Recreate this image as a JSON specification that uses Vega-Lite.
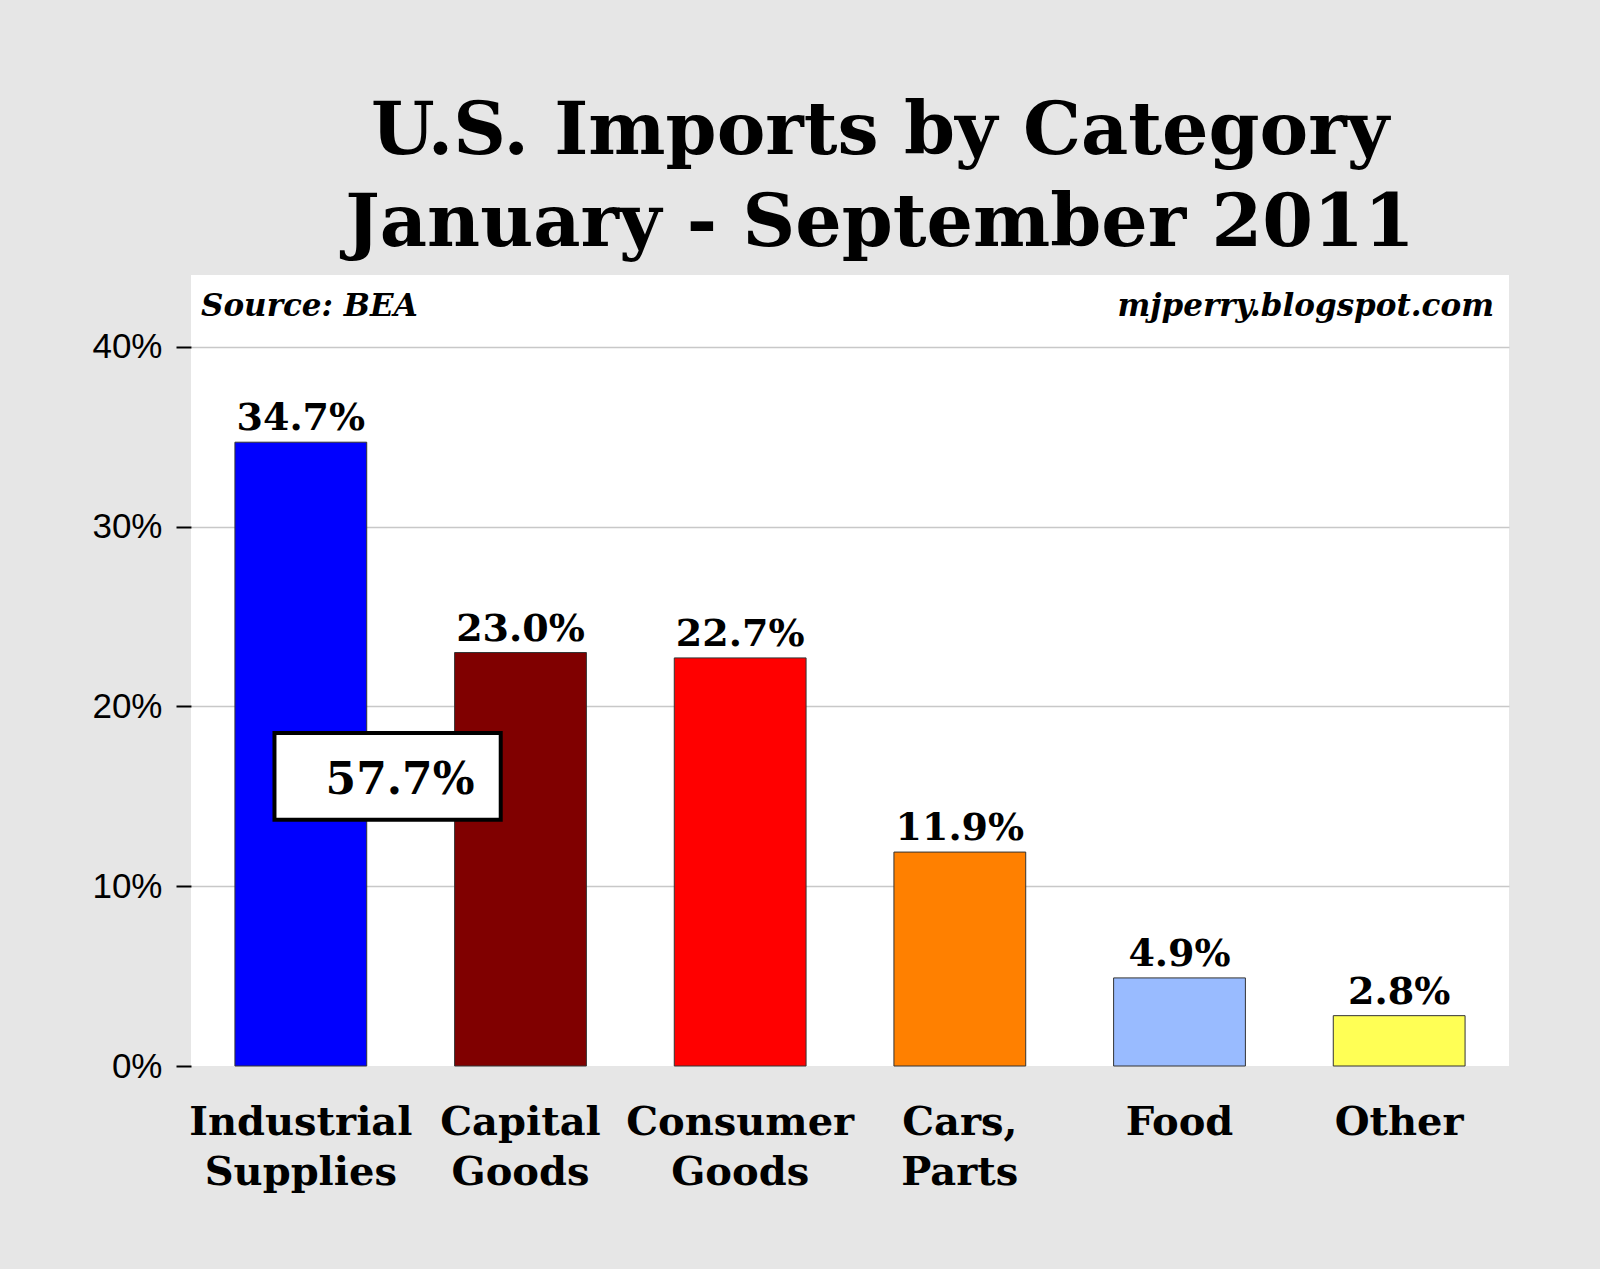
{
  "$schema": "https://vega.github.io/schema/vega-lite/v6.json",
  "width": 1318,
  "height": 791,
  "autosize": {"type": "none"},
  "padding": {"left": 191, "top": 275, "right": 91, "bottom": 203},
  "background": "#e6e6e6",
  "config": {"view": {"fill": "white", "stroke": null}},
  "title": {
    "text": ["U.S. Imports by Category", "January - September 2011"],
    "font": "DejaVu Serif",
    "fontSize": 73,
    "fontWeight": "bold",
    "color": "#000000",
    "lineHeight": 92,
    "anchor": "middle",
    "dx": 30,
    "offset": 14
  },
  "layer": [
    {
      "data": {"name": "imports", "values": [
        {"category": "Industrial Supplies", "share": 0.347},
        {"category": "Capital Goods", "share": 0.230},
        {"category": "Consumer Goods", "share": 0.227},
        {"category": "Cars, Parts", "share": 0.119},
        {"category": "Food", "share": 0.049},
        {"category": "Other", "share": 0.028}
      ]},
      "layer": [
        {
          "mark": {"type": "bar", "stroke": "#333333", "strokeWidth": 1},
          "encoding": {
            "x": {
              "field": "category", "type": "nominal",
              "scale": {
                "domain": ["Industrial Supplies", "Capital Goods", "Consumer Goods", "Cars, Parts", "Food", "Other"],
                "paddingInner": 0.4, "paddingOuter": 0.2
              },
              "axis": {
                "title": null,
                "labelExpr": "split(datum.label, ' ')",
                "labelFont": "DejaVu Serif",
                "labelFontWeight": "bold",
                "labelFontSize": 40,
                "labelLineHeight": 50,
                "labelColor": "#000000",
                "labelAngle": 0,
                "labelPadding": 36,
                "labelOverlap": false,
                "labelLimit": 0,
                "ticks": false,
                "domain": false
              }
            },
            "y": {
              "field": "share", "type": "quantitative",
              "scale": {"domain": [0, 0.44], "nice": false},
              "axis": {
                "title": null,
                "values": [0, 0.1, 0.2, 0.3, 0.4],
                "format": ".0%",
                "labelFont": "Liberation Sans",
                "labelFontSize": 35,
                "labelColor": "#000000",
                "labelPadding": 14,
                "tickSize": 15,
                "tickWidth": 2,
                "tickColor": "#000000",
                "domain": false,
                "gridColor": "#c8c8c8",
                "gridWidth": 1.5,
                "gridOpacity": {"condition": {"test": "datum.value === 0", "value": 0}, "value": 1}
              }
            },
            "color": {
              "field": "category", "type": "nominal", "legend": null,
              "scale": {
                "domain": ["Industrial Supplies", "Capital Goods", "Consumer Goods", "Cars, Parts", "Food", "Other"],
                "range": ["#0000ff", "#800000", "#ff0000", "#ff8000", "#99bbff", "#ffff55"]
              }
            }
          }
        },
        {
          "mark": {"type": "text", "font": "DejaVu Serif", "fontWeight": "bold", "fontSize": 38, "baseline": "alphabetic", "dy": -12, "color": "#000000"},
          "encoding": {
            "x": {"field": "category", "type": "nominal"},
            "y": {"field": "share", "type": "quantitative"},
            "text": {"field": "share", "type": "quantitative", "format": ".1%"}
          }
        }
      ]
    },
    {
      "data": {"values": [{"from": "Industrial Supplies", "to": "Capital Goods", "top": 0.1852, "bottom": 0.137, "mid": 0.1585, "label": "57.7%"}]},
      "layer": [
        {
          "mark": {"type": "rect", "fill": "white", "stroke": "#000000", "strokeWidth": 4},
          "encoding": {
            "x": {"field": "from", "type": "nominal", "bandPosition": 0.30},
            "x2": {"field": "to", "bandPosition": 0.35},
            "y": {"field": "top", "type": "quantitative"},
            "y2": {"field": "bottom"}
          }
        },
        {
          "mark": {"type": "text", "font": "DejaVu Serif", "fontWeight": "bold", "fontSize": 44, "baseline": "middle", "align": "center", "color": "#000000"},
          "encoding": {
            "x": {"field": "to", "type": "nominal", "bandPosition": -0.414},
            "y": {"field": "mid", "type": "quantitative"},
            "text": {"field": "label"}
          }
        }
      ]
    },
    {
      "data": {"values": [{"note": "Source: BEA", "level": 0.4172}]},
      "mark": {"type": "text", "font": "DejaVu Serif", "fontWeight": "bold", "fontStyle": "italic", "fontSize": 31, "align": "left", "baseline": "alphabetic", "color": "#000000"},
      "encoding": {
        "x": {"datum": "Industrial Supplies", "bandPosition": -0.257},
        "y": {"field": "level", "type": "quantitative"},
        "text": {"field": "note"}
      }
    },
    {
      "data": {"values": [{"note": "mjperry.blogspot.com", "level": 0.4172}]},
      "mark": {"type": "text", "font": "DejaVu Serif", "fontWeight": "bold", "fontStyle": "italic", "fontSize": 31, "align": "right", "baseline": "alphabetic", "color": "#000000"},
      "encoding": {
        "x": {"datum": "Other", "bandPosition": 1.219},
        "y": {"field": "level", "type": "quantitative"},
        "text": {"field": "note"}
      }
    }
  ]
}
